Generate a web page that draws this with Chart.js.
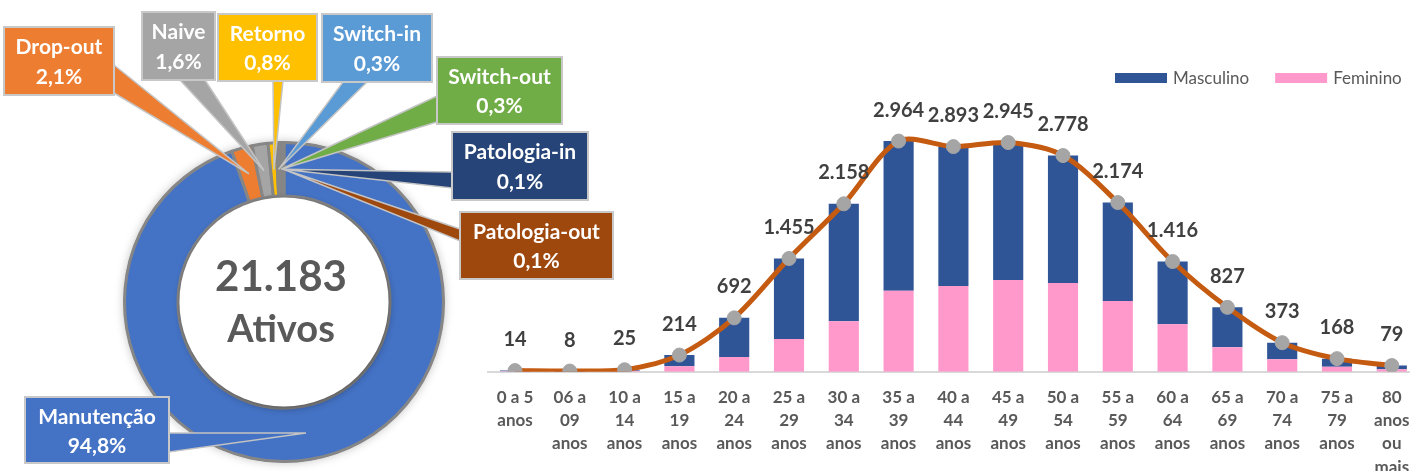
<!DOCTYPE html>
<html lang="pt">
<head>
  <meta charset="UTF-8">
  <title>Ativos por status e faixa etária</title>
  <script src="https://cdn.jsdelivr.net/npm/chart.js"></script>
  <style>
    html, body { margin: 0; padding: 0; background: #fff; overflow: hidden; }
    .wrap { position: relative; width: 1410px; height: 471px; overflow: hidden; }
    .layer { position: absolute; left: 0; top: 0; height: 471px; }
    #barLayer { width: 1430px; }
    #pieLayer { width: 1410px; pointer-events: none; }
  </style>
</head>
<body>
  <div class="wrap">
    <div id="barLayer" class="layer"><canvas id="barChart"></canvas></div>
    <div id="pieLayer" class="layer"><canvas id="pieChart"></canvas></div>
  </div>

  <script>
    // Status dos ativos (%)
    const statusLabels = ['Manutenção', 'Drop-out', 'Naive', 'Retorno', 'Switch-in', 'Switch-out', 'Patologia-in', 'Patologia-out'];
    const statusValues = [94.8, 2.1, 1.6, 0.8, 0.3, 0.3, 0.1, 0.1];
    const statusColors = ['#4472C4', '#ED7D31', '#A5A5A5', '#FFC000', '#5B9BD5', '#70AD47', '#264478', '#9E480E'];

    // Ativos por faixa etária
    const faixas = [
      ['0 a 5', 'anos'], ['06 a', '09', 'anos'], ['10 a', '14', 'anos'], ['15 a', '19', 'anos'],
      ['20 a', '24', 'anos'], ['25 a', '29', 'anos'], ['30 a', '34', 'anos'], ['35 a', '39', 'anos'],
      ['40 a', '44', 'anos'], ['45 a', '49', 'anos'], ['50 a', '54', 'anos'], ['55 a', '59', 'anos'],
      ['60 a', '64', 'anos'], ['65 a', '69', 'anos'], ['70 a', '74', 'anos'], ['75 a', '79', 'anos'],
      ['80', 'anos', 'ou', 'mais']
    ];
    const totalFaixa = [14, 8, 25, 214, 692, 1455, 2158, 2964, 2893, 2945, 2778, 2174, 1416, 827, 373, 168, 79];
    const femininoFaixa = [7, 4, 12, 70, 190, 420, 650, 1040, 1100, 1180, 1140, 910, 610, 315, 160, 65, 30];
    const masculinoFaixa = [7, 4, 13, 144, 502, 1035, 1508, 1924, 1793, 1765, 1638, 1264, 806, 512, 213, 103, 49];

    // Caixas dos rótulos do anel: [x, y, largura, altura] e base da seta
    const callouts = [
      { box: [25, 397, 144, 66], base: [[169, 433], [169, 452]] },
      { box: [4, 27, 110, 68], base: [[114, 65], [114, 93]] },
      { box: [142, 12, 73, 68], base: [[180, 80], [205, 80]] },
      { box: [218, 14, 99, 67], base: [[273, 81], [283, 81]] },
      { box: [322, 14, 110, 68], base: [[343, 82], [367, 82]] },
      { box: [437, 57, 125, 67], base: [[437, 96], [437, 122]] },
      { box: [452, 132, 136, 68], base: [[452, 172], [452, 188]] },
      { box: [460, 212, 153, 67], base: [[460, 229], [460, 241]] }
    ];

    Chart.defaults.font.family = 'Lato';
    Chart.defaults.animation = false;

    function fmtMilhar(v) {
      return String(v).replace(/\B(?=(\d{3})+(?!\d))/g, '.');
    }
    function fmtPct(v) {
      return v.toFixed(1).replace('.', ',') + '%';
    }

    // Sombra, centro e rótulos com seta do anel
    const anelPlugin = {
      id: 'anelRotulos',
      beforeDatasetsDraw(chart) {
        const arc = chart.getDatasetMeta(0).data[0];
        const ctx = chart.ctx;
        ctx.save();
        ctx.shadowColor = 'rgba(0,0,0,0.25)';
        ctx.shadowBlur = 10;
        ctx.beginPath();
        ctx.arc(arc.x, arc.y, arc.outerRadius + 1, 0, Math.PI * 2);
        ctx.fillStyle = '#868686';
        ctx.fill();
        ctx.restore();
      },
      afterDatasetsDraw(chart) {
        const meta = chart.getDatasetMeta(0);
        const first = meta.data[0];
        const ctx = chart.ctx;
        const cx = first.x, cy = first.y;

        // miolo branco
        ctx.save();
        ctx.shadowColor = 'rgba(0,0,0,0.35)';
        ctx.shadowBlur = 7;
        ctx.shadowOffsetX = 1;
        ctx.shadowOffsetY = 2;
        ctx.beginPath();
        ctx.arc(cx, cy, first.innerRadius - 1.5, 0, Math.PI * 2);
        ctx.fillStyle = '#fff';
        ctx.fill();
        ctx.restore();

        const total = totalFaixa.reduce((a, b) => a + b, 0);
        ctx.save();
        ctx.fillStyle = '#595959';
        ctx.textAlign = 'center';
        ctx.textBaseline = 'middle';
        ctx.font = 'bold 42px Lato';
        ctx.fillText(fmtMilhar(total), cx - 3, cy - 25);
        ctx.font = 'bold 38px Lato';
        ctx.fillText('Ativos', cx - 3, cy + 28);
        ctx.restore();

        // setas e caixas
        meta.data.forEach((arc, i) => {
          const c = callouts[i];
          if (!c) return;
          const mid = (arc.startAngle + arc.endAngle) / 2;
          const r = (arc.innerRadius + arc.outerRadius) / 2;
          const tx = arc.x + r * Math.cos(mid);
          const ty = arc.y + r * Math.sin(mid);
          ctx.save();
          ctx.beginPath();
          ctx.moveTo(c.base[0][0], c.base[0][1]);
          ctx.lineTo(tx, ty);
          ctx.lineTo(c.base[1][0], c.base[1][1]);
          ctx.closePath();
          ctx.fillStyle = statusColors[i];
          ctx.fill();
          ctx.strokeStyle = '#C4C4C4';
          ctx.lineWidth = 1.5;
          ctx.stroke();
          ctx.restore();
        });

        meta.data.forEach((arc, i) => {
          const c = callouts[i];
          if (!c) return;
          const [x, y, w, h] = c.box;
          ctx.save();
          ctx.fillStyle = statusColors[i];
          ctx.fillRect(x, y, w, h);
          ctx.strokeStyle = '#C8C8C8';
          ctx.lineWidth = 2;
          ctx.strokeRect(x, y, w, h);
          ctx.fillStyle = '#fff';
          ctx.font = 'bold 21px Lato';
          ctx.textAlign = 'center';
          ctx.textBaseline = 'middle';
          ctx.fillText(statusLabels[i], x + w / 2, y + h * 0.3);
          ctx.fillText(fmtPct(statusValues[i]), x + w / 2, y + h * 0.74);
          ctx.restore();
        });
      }
    };

    new Chart(document.getElementById('pieChart'), {
      type: 'doughnut',
      data: {
        labels: statusLabels,
        datasets: [{
          data: statusValues,
          backgroundColor: statusColors,
          borderColor: '#868686',
          borderWidth: 3
        }]
      },
      options: {
        responsive: true,
        maintainAspectRatio: false,
        cutout: '66.5%',
        layout: { padding: { left: 123, right: 965, top: 141, bottom: 8 } },
        plugins: { legend: { display: false }, tooltip: { enabled: false } },
        events: []
      },
      plugins: [anelPlugin]
    });

    // Legenda e rótulos de total
    const barrasPlugin = {
      id: 'barrasExtras',
      afterDatasetsDraw(chart) {
        const ctx = chart.ctx;
        const meta = chart.getDatasetMeta(2);
        ctx.save();
        ctx.font = 'bold 20px Lato';
        ctx.fillStyle = '#404040';
        ctx.textAlign = 'center';
        ctx.textBaseline = 'middle';
        meta.data.forEach((pt, i) => {
          ctx.fillText(fmtMilhar(totalFaixa[i]), pt.x, pt.y - 31);
        });
        ctx.restore();
      },
      afterDraw(chart) {
        const ctx = chart.ctx;
        ctx.save();
        ctx.font = '17px Lato';
        ctx.textBaseline = 'middle';
        let x = 1115;
        [0, 1].forEach(i => {
          const ds = chart.data.datasets[i];
          ctx.fillStyle = ds.backgroundColor;
          ctx.fillRect(x, 73, 52, 10);
          ctx.fillStyle = '#595959';
          ctx.fillText(ds.label, x + 58, 78.5);
          x += 58 + ctx.measureText(ds.label).width + 26;
        });
        ctx.restore();
      }
    };

    new Chart(document.getElementById('barChart'), {
      type: 'bar',
      data: {
        labels: faixas,
        datasets: [
          {
            label: 'Masculino',
            data: masculinoFaixa,
            backgroundColor: '#2F5597',
            stack: 'sexo',
            order: 2,
            categoryPercentage: 1,
            barPercentage: 0.55
          },
          {
            label: 'Feminino',
            data: femininoFaixa,
            backgroundColor: '#FF99CC',
            stack: 'sexo',
            order: 1,
            categoryPercentage: 1,
            barPercentage: 0.55
          },
          {
            type: 'line',
            label: 'Total',
            data: totalFaixa,
            stack: 'total',
            order: 0,
            borderColor: '#C55A11',
            borderWidth: 5,
            tension: 0.3,
            pointRadius: 7,
            pointBorderWidth: 1,
            pointBackgroundColor: '#A5A5A5',
            pointBorderColor: '#A5A5A5'
          }
        ]
      },
      options: {
        responsive: true,
        maintainAspectRatio: false,
        layout: { padding: { left: 487.6, right: 10.8, top: 95.5, bottom: 0 } },
        plugins: { legend: { display: false }, tooltip: { enabled: false } },
        events: [],
        scales: {
          x: {
            stacked: true,
            grid: { display: false },
            border: { color: '#D9D9D9', width: 2 },
            ticks: {
              color: '#595959',
              font: { size: 17, weight: 'bold', lineHeight: 1.37 },
              padding: 6,
              maxRotation: 0,
              autoSkip: false
            },
            afterFit(scale) { scale.height = 99.3; }
          },
          y: {
            stacked: true,
            display: false,
            min: 0,
            max: 3550
          }
        }
      },
      plugins: [barrasPlugin]
    });
  </script>
</body>
</html>
